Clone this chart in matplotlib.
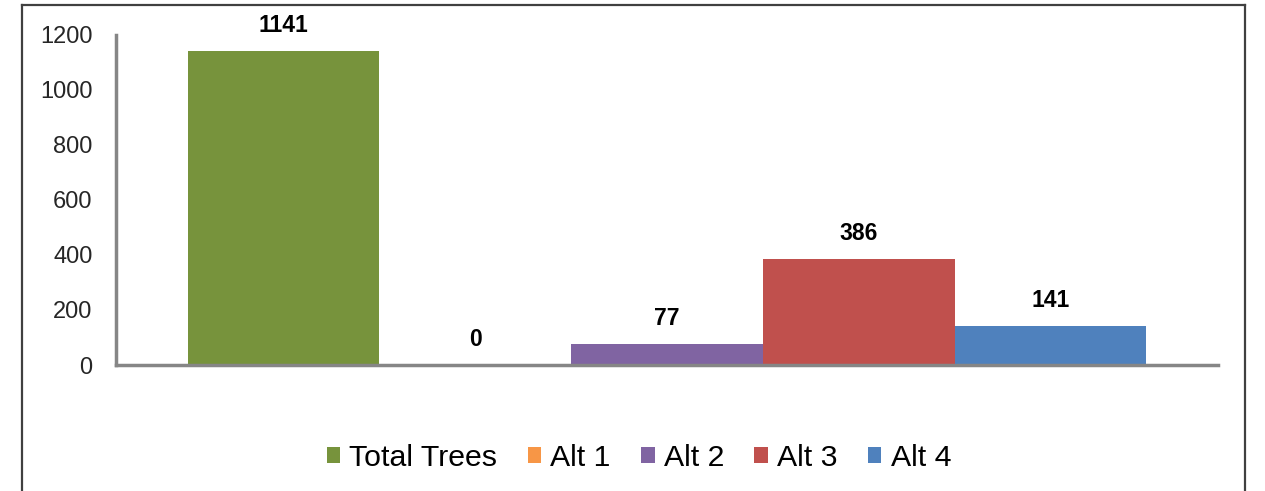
import matplotlib.pyplot as plt
from matplotlib.lines import Line2D

plt.rcParams['font.family'] = ['Liberation Sans', 'DejaVu Sans']

SERIES = ['Total Trees', 'Alt 1', 'Alt 2', 'Alt 3', 'Alt 4']
VALUES = [1141, 0, 77, 386, 141]
COLORS = ['#77933C', '#F79646', '#8064A2', '#C0504D', '#4F81BD']
Y_TICKS = [0, 200, 400, 600, 800, 1000, 1200]


if __name__ == '__main__':
    fig = plt.figure(figsize=(12.65, 4.91), dpi=100)
    ax = fig.add_axes([116 / 1265, 126 / 491, 1102 / 1265, 330 / 491])

    n = len(SERIES)
    for i, (name, value, color) in enumerate(zip(SERIES, VALUES, COLORS)):
        bars = ax.bar(i - (n - 1) / 2, value, width=1.0, color=color, label=name)
        ax.bar_label(bars, padding=10, fontsize=16.5, fontweight='bold')

    ax.set_xlim(-2.873, 2.873)
    ax.set_ylim(0, 1200)
    ax.set_yticks(Y_TICKS)
    ax.set_xticks([])
    ax.tick_params(axis='y', length=0, pad=17, labelsize=17, labelcolor='#262626')

    for side in ['top', 'right']:
        ax.spines[side].set_visible(False)
    for side in ['left', 'bottom']:
        ax.spines[side].set_color('#868686')
        ax.spines[side].set_linewidth(2.5)

    fig.legend(loc='center', bbox_to_anchor=(0.505, 0.067), ncol=n, frameon=False,
               fontsize=21.8, handlelength=0.45, handleheight=0.45,
               handletextpad=0.3, columnspacing=1.0)

    # outer frame, open at the bottom
    fx0, fx1, fy = 22 / 1265, 1245 / 1265, 1 - 5 / 491
    frame = dict(color='#404040', linewidth=1.6, transform=fig.transFigure)
    fig.add_artist(Line2D([fx0, fx1], [fy, fy], **frame))
    fig.add_artist(Line2D([fx0, fx0], [0, fy], **frame))
    fig.add_artist(Line2D([fx1, fx1], [0, fy], **frame))

    fig.savefig('out.png', dpi=100)
